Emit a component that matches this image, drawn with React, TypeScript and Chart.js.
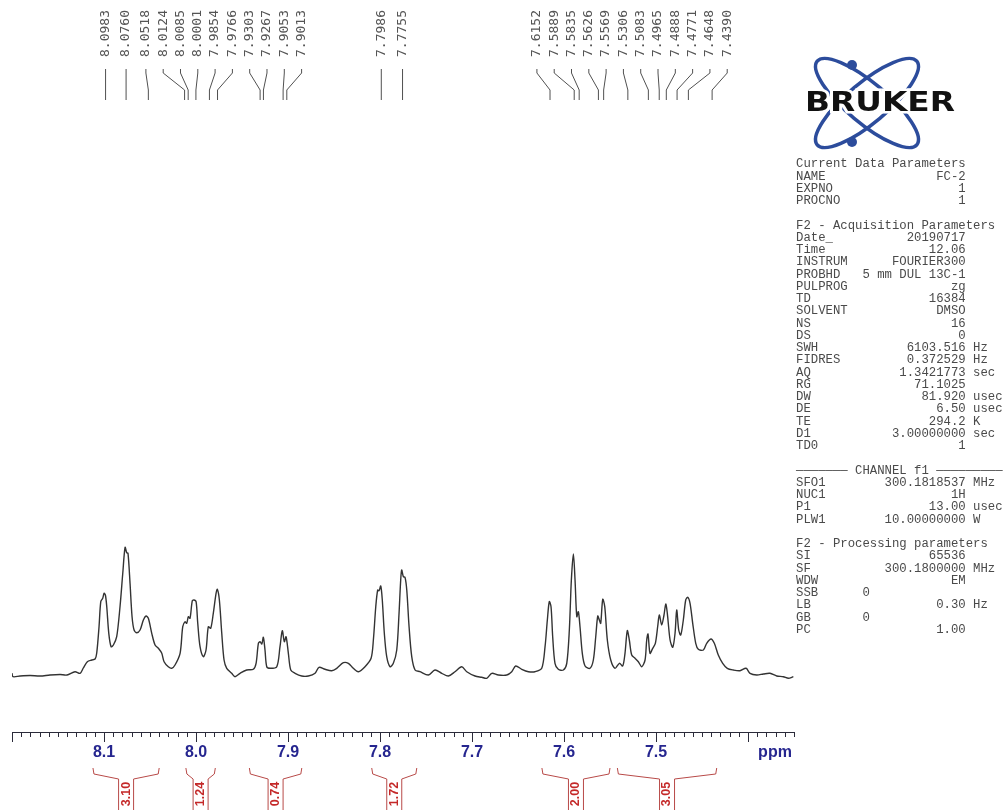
import React, { useEffect, useRef } from "react";
import { Chart, registerables } from "chart.js";

Chart.register(...registerables);

// ---- spectrum trace (chemical shift in ppm, intensity in arbitrary units) ----
const shiftPpm: number[] = [
  8.2, 8.1989, 8.1913, 8.1804, 8.1695, 8.1587, 8.1478, 8.1402, 8.1315, 8.126,
  8.1225, 8.1181, 8.1133, 8.1097, 8.1079, 8.1054, 8.1035, 8.1014, 8.0999, 8.0985,
  8.097, 8.0948, 8.0923, 8.0898, 8.0862, 8.0826, 8.0796, 8.0771, 8.0753, 8.0739,
  8.0717, 8.0695, 8.0673, 8.0644, 8.0608, 8.0572, 8.0543, 8.0518, 8.0481, 8.0445,
  8.0409, 8.0372, 8.0347, 8.0301, 8.0264, 8.0228, 8.0173, 8.0144, 8.0119, 8.0101,
  8.0083, 8.0065, 8.004, 8.0021, 7.9999, 7.9981, 7.9956, 7.992, 7.9891, 7.9866,
  7.984, 7.9812, 7.9782, 7.9768, 7.9746, 7.972, 7.9695, 7.9666, 7.9612, 7.9576,
  7.9521, 7.9449, 7.9377, 7.9347, 7.9322, 7.9304, 7.9285, 7.9268, 7.925, 7.9231,
  7.9195, 7.9122, 7.9087, 7.9062, 7.904, 7.9021, 7.8996, 7.897, 7.8923, 7.8851,
  7.8779, 7.8706, 7.8663, 7.8597, 7.8525, 7.847, 7.8398, 7.8344, 7.829, 7.8235,
  7.8163, 7.8097, 7.8072, 7.8046, 7.8025, 7.801, 7.7992, 7.7975, 7.7953, 7.7927,
  7.7891, 7.7855, 7.7818, 7.7793, 7.7775, 7.7764, 7.7746, 7.7728, 7.7709, 7.7684,
  7.7655, 7.7619, 7.7565, 7.7474, 7.7402, 7.7329, 7.7257, 7.7185, 7.7112, 7.7057,
  7.6967, 7.6894, 7.684, 7.6785, 7.6714, 7.6622, 7.6568, 7.6525, 7.6459, 7.6387,
  7.6315, 7.6242, 7.6206, 7.6181, 7.616, 7.6141, 7.6123, 7.6098, 7.6062, 7.6007,
  7.597, 7.5942, 7.592, 7.5898, 7.588, 7.5861, 7.5844, 7.5826, 7.5801, 7.5771,
  7.5717, 7.5681, 7.5655, 7.5633, 7.5616, 7.5601, 7.5579, 7.5557, 7.5529, 7.5492,
  7.5445, 7.5398, 7.5362, 7.5337, 7.5312, 7.529, 7.5264, 7.5228, 7.5192, 7.5155,
  7.5119, 7.5101, 7.5087, 7.5065, 7.5036, 7.5007, 7.4981, 7.4964, 7.4938, 7.4913,
  7.4894, 7.4877, 7.4847, 7.4818, 7.4793, 7.4775, 7.4753, 7.4731, 7.4703, 7.4677,
  7.4655, 7.463, 7.4601, 7.4568, 7.454, 7.4485, 7.4449, 7.4402, 7.4366, 7.4323,
  7.4275, 7.4225, 7.416, 7.4087, 7.4021, 7.3978, 7.3905, 7.3833, 7.3761, 7.3688,
  7.3616, 7.3561, 7.3507,
];

const intensity: number[] = [
  1.7, -1.7, -1.0, -0.5, -1.0, 0.0, 0.5, 0.0, 3.3, 1.7,
  7.0, 13.3, 15.0, 16.0, 22.0, 48.3, 73.3, 76.7, 81.7, 80.0,
  68.3, 41.7, 28.3, 30.0, 38.3, 68.3, 101.7, 127.7, 122.3, 121.7,
  91.7, 58.3, 45.0, 42.3, 45.0, 55.0, 59.0, 56.7, 41.7, 30.0,
  26.7, 21.7, 13.3, 8.3, 6.7, 10.0, 21.7, 48.3, 53.3, 51.7,
  58.3, 56.7, 74.3, 75.0, 73.3, 51.7, 28.3, 18.3, 25.0, 48.3,
  46.7, 61.7, 81.7, 85.7, 75.0, 41.7, 15.0, 6.7, 1.7, -1.7,
  1.7, 5.0, 5.7, 11.7, 31.7, 33.3, 31.0, 37.7, 25.0, 8.3,
  6.7, 8.3, 28.3, 44.3, 33.3, 38.3, 21.7, 5.0, 1.7, -1.0,
  -1.0, 1.7, 7.7, 5.7, 4.3, 6.7, 12.3, 11.7, 6.7, 3.3,
  8.3, 16.7, 35.0, 68.3, 85.0, 84.3, 89.0, 75.0, 41.7, 18.3,
  8.3, 11.7, 25.0, 61.7, 95.0, 105.0, 98.3, 97.7, 85.0, 48.3,
  18.3, 5.0, 3.3, 0.0, 5.0, 1.7, -1.0, 3.3, 8.3, 3.3,
  -1.0, -2.3, -3.3, 1.7, 0.0, 0.0, 3.3, 9.0, 5.7, 3.3,
  3.3, 6.7, 28.3, 55.0, 73.3, 68.3, 38.3, 11.7, 5.7, 5.0,
  11.7, 45.0, 95.0, 121.0, 95.0, 58.3, 63.3, 48.3, 21.7, 9.0,
  6.7, 15.0, 38.3, 59.0, 55.0, 51.7, 75.7, 68.3, 35.0, 15.0,
  6.7, 11.7, 9.0, 21.7, 44.3, 35.0, 20.0, 16.7, 13.3, 8.3,
  15.0, 35.0, 41.0, 21.7, 26.7, 31.7, 49.0, 60.0, 50.0, 60.0,
  71.0, 61.7, 35.0, 27.7, 41.7, 65.0, 45.0, 40.0, 55.0, 75.0,
  77.7, 71.7, 51.7, 31.7, 25.7, 25.0, 31.7, 36.0, 31.7, 20.0,
  11.7, 6.7, 5.0, 4.3, 6.7, 1.7, 0.0, 1.0, 1.7, -1.0,
  -1.7, -3.3, -1.7,
];

// ---- peak picking labels ----
const peakShifts: number[] = [
  8.0983, 8.076, 8.0518, 8.0124, 8.0085, 8.0001, 7.9854, 7.9766, 7.9303, 7.9267,
  7.9053, 7.9013, 7.7986, 7.7755, 7.6152, 7.5889, 7.5835, 7.5626, 7.5569, 7.5306,
  7.5083, 7.4965, 7.4888, 7.4771, 7.4648, 7.439,
];

// ---- ppm axis ----
const axisMin = 7.35;
const axisMax = 8.2;
const majorTickValues: number[] = [8.1, 8.0, 7.9, 7.8, 7.7, 7.6, 7.5];
const majorTickLabels: string[] = ["8.1", "8.0", "7.9", "7.8", "7.7", "7.6", "7.5"];
const axisUnit = "ppm";

// ---- integrals ----
const integralFrom: number[] = [8.112, 8.011, 7.942, 7.809, 7.624, 7.542];
const integralTo: number[] = [8.04, 7.979, 7.885, 7.76, 7.55, 7.434];
const integralLabels: string[] = ["3.10", "1.24", "0.74", "1.72", "2.00", "3.05"];

// ---- acquisition / processing parameters ----
type ParamRow = [string, string?, number?, string?];
const paramRows: ParamRow[] = [
  ["Current Data Parameters"],
  ["NAME", "FC-2", 23],
  ["EXPNO", "1", 23],
  ["PROCNO", "1", 23],
  [""],
  ["F2 - Acquisition Parameters"],
  ["Date_", "20190717", 23],
  ["Time", "12.06", 23],
  ["INSTRUM", "FOURIER300", 23],
  ["PROBHD", "5 mm DUL 13C-1", 23],
  ["PULPROG", "zg", 23],
  ["TD", "16384", 23],
  ["SOLVENT", "DMSO", 23],
  ["NS", "16", 23],
  ["DS", "0", 23],
  ["SWH", "6103.516", 23, "Hz"],
  ["FIDRES", "0.372529", 23, "Hz"],
  ["AQ", "1.3421773", 23, "sec"],
  ["RG", "71.1025", 23],
  ["DW", "81.920", 23, "usec"],
  ["DE", "6.50", 23, "usec"],
  ["TE", "294.2", 23, "K"],
  ["D1", "3.00000000", 23, "sec"],
  ["TD0", "1", 23],
  [""],
  ["\u2014\u2014\u2014\u2014\u2014\u2014\u2014 CHANNEL f1 \u2014\u2014\u2014\u2014\u2014\u2014\u2014\u2014\u2014"],
  ["SFO1", "300.1818537", 23, "MHz"],
  ["NUC1", "1H", 23],
  ["P1", "13.00", 23, "usec"],
  ["PLW1", "10.00000000", 23, "W"],
  [""],
  ["F2 - Processing parameters"],
  ["SI", "65536", 23],
  ["SF", "300.1800000", 23, "MHz"],
  ["WDW", "EM", 23],
  ["SSB", "0", 10],
  ["LB", "0.30", 23, "Hz"],
  ["GB", "0", 10],
  ["PC", "1.00", 23],
];

function formatRow(r: ParamRow): string {
  const [name, value, end, unit] = r;
  if (value === undefined || end === undefined) return name;
  let s = name;
  while (s.length + value.length < end) s += " ";
  s += value;
  if (unit) s += " " + unit;
  return s;
}

function spreadLabels(px: number[], gap: number): number[] {
  let clusters: number[][] = px.map((x) => [x]);
  const place = (c: number[]) => {
    const m = c.reduce((a, b) => a + b, 0) / c.length;
    return c.map((_, k) => m + (k - (c.length - 1) / 2) * gap);
  };
  let merged = true;
  while (merged) {
    merged = false;
    for (let i = 0; i < clusters.length - 1; i++) {
      const a = place(clusters[i]);
      const b = place(clusters[i + 1]);
      if (b[0] - a[a.length - 1] < gap) {
        clusters[i] = clusters[i].concat(clusters[i + 1]);
        clusters.splice(i + 1, 1);
        merged = true;
        break;
      }
    }
  }
  return clusters.flatMap(place);
}

const W = 1003;
const H = 810;

const decorPlugin = {
  id: "nmrDecor",
  afterDraw(chart: any) {
    const ctx: CanvasRenderingContext2D = chart.ctx;
    const xs = chart.scales.x;
    const area = chart.chartArea;

    // ---------- peak labels ----------
    const peakPx = peakShifts.map((p) => xs.getPixelForValue(p));
    const labelPx = spreadLabels(peakPx, 17.3);
    ctx.save();
    ctx.strokeStyle = "#505050";
    ctx.lineWidth = 1;
    ctx.fillStyle = "#555";
    ctx.font = '13px "DejaVu Sans Mono", monospace';
    peakShifts.forEach((p, i) => {
      const lx = labelPx[i];
      const px = peakPx[i];
      ctx.beginPath();
      ctx.moveTo(lx, 69);
      ctx.lineTo(lx, 73);
      ctx.lineTo(px, 90);
      ctx.lineTo(px, 100);
      ctx.stroke();
      ctx.save();
      ctx.translate(lx, 57);
      ctx.rotate(-Math.PI / 2);
      ctx.textAlign = "left";
      ctx.textBaseline = "middle";
      ctx.fillText(p.toFixed(4), 0, 0);
      ctx.restore();
    });
    ctx.restore();

    // ---------- ppm axis ----------
    const axisY = area.bottom;
    ctx.save();
    ctx.strokeStyle = "#2b2b3a";
    ctx.lineWidth = 1;
    ctx.beginPath();
    ctx.moveTo(area.left, axisY + 0.5);
    ctx.lineTo(area.right, axisY + 0.5);
    ctx.stroke();
    const kMin = Math.round(axisMin * 100);
    const kMax = Math.round(axisMax * 100);
    for (let k = kMin; k <= kMax; k++) {
      const x = Math.round(xs.getPixelForValue(k / 100)) + 0.5;
      const major = k % 10 === 0;
      ctx.beginPath();
      ctx.moveTo(x, axisY);
      ctx.lineTo(x, axisY + (major ? 10 : 5));
      ctx.stroke();
    }
    ctx.fillStyle = "#26268f";
    ctx.font = 'bold 16px "Liberation Sans", Arial, sans-serif';
    ctx.textAlign = "center";
    ctx.textBaseline = "middle";
    majorTickValues.forEach((v, i) => {
      ctx.fillText(majorTickLabels[i], xs.getPixelForValue(v), axisY + 21);
    });
    ctx.fillText(axisUnit, xs.getPixelForValue(7.4) + 27, axisY + 21);
    ctx.restore();

    // ---------- integrals ----------
    ctx.save();
    ctx.strokeStyle = "#b84a48";
    ctx.lineWidth = 1;
    ctx.fillStyle = "#c42828";
    ctx.font = 'bold 12.5px "Liberation Sans", Arial, sans-serif';
    integralFrom.forEach((a, i) => {
      const x1 = xs.getPixelForValue(a);
      const x2 = xs.getPixelForValue(integralTo[i]);
      const xc = (x1 + x2) / 2;
      const g = 7.5;
      ctx.beginPath();
      ctx.moveTo(x1, 768);
      ctx.lineTo(x1 + 1, 774);
      ctx.lineTo(xc - g, 779);
      ctx.lineTo(xc - g, H);
      ctx.moveTo(x2, 768);
      ctx.lineTo(x2 - 1, 774);
      ctx.lineTo(xc + g, 779);
      ctx.lineTo(xc + g, H);
      ctx.stroke();
      ctx.save();
      ctx.translate(xc, 794);
      ctx.rotate(-Math.PI / 2);
      ctx.textAlign = "center";
      ctx.textBaseline = "middle";
      ctx.fillText(integralLabels[i], 0, 0);
      ctx.restore();
    });
    ctx.restore();

    // ---------- Bruker logo ----------
    ctx.save();
    ctx.strokeStyle = "#2c4c9c";
    ctx.fillStyle = "#2c4c9c";
    ctx.lineWidth = 3.5;
    ctx.beginPath();
    ctx.ellipse(867, 103, 65, 20, (40 * Math.PI) / 180, 0, Math.PI * 2);
    ctx.stroke();
    ctx.beginPath();
    ctx.ellipse(867, 103, 65, 20, (-40 * Math.PI) / 180, 0, Math.PI * 2);
    ctx.stroke();
    ctx.beginPath();
    ctx.arc(852, 65, 5, 0, Math.PI * 2);
    ctx.fill();
    ctx.beginPath();
    ctx.arc(852, 142, 5, 0, Math.PI * 2);
    ctx.fill();
    ctx.font = 'bold 27px "DejaVu Sans", sans-serif';
    const tw = ctx.measureText("BRUKER").width;
    ctx.translate(880, 103);
    ctx.scale(150 / tw, 1);
    ctx.textAlign = "center";
    ctx.textBaseline = "middle";
    ctx.lineWidth = 5;
    ctx.strokeStyle = "#ffffff";
    ctx.strokeText("BRUKER", 0, 1);
    ctx.fillStyle = "#111";
    ctx.fillText("BRUKER", 0, 1);
    ctx.restore();

    // ---------- parameter block ----------
    ctx.save();
    ctx.fillStyle = "#4a4a4a";
    ctx.font = '12.3px "Liberation Mono", "Courier New", monospace';
    ctx.textAlign = "left";
    ctx.textBaseline = "middle";
    paramRows.forEach((r, i) => {
      ctx.fillText(formatRow(r), 796, 164 + i * 12.25);
    });
    ctx.restore();
  },
};

export default function App() {
  const ref = useRef<HTMLCanvasElement | null>(null);
  useEffect(() => {
    if (!ref.current) return;
    const chart = new Chart(ref.current, {
      type: "line",
      data: {
        datasets: [
          {
            data: shiftPpm.map((x, i) => ({ x, y: intensity[i] })),
            borderColor: "#333333",
            borderWidth: 1.4,
            pointRadius: 0,
            tension: 0.3,
            fill: false,
          },
        ],
      },
      options: {
        responsive: false,
        animation: false,
        devicePixelRatio: 1,
        layout: { padding: { left: 12, right: 209, top: 100, bottom: 78 } },
        plugins: { legend: { display: false }, tooltip: { enabled: false } },
        scales: {
          x: { type: "linear", reverse: true, min: axisMin, max: axisMax, display: false },
          y: { type: "linear", min: -57, max: 575, display: false },
        },
      },
      plugins: [decorPlugin],
    } as any);
    return () => chart.destroy();
  }, []);
  return (
    <div style={{ position: "absolute", left: 0, top: 0, width: W, height: H, background: "#fff" }}>
      <canvas ref={ref} width={W} height={H} style={{ display: "block" }} />
    </div>
  );
}
